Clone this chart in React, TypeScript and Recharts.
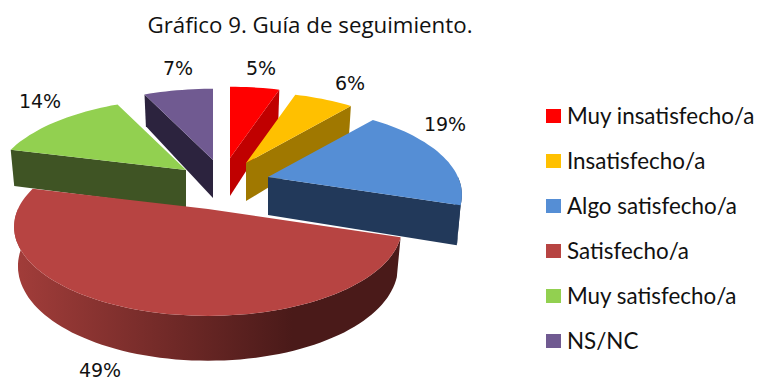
import { Legend, Pie, PieChart } from "recharts";

const CATEGORIES = [
  "Muy insatisfecho/a",
  "Insatisfecho/a",
  "Algo satisfecho/a",
  "Satisfecho/a",
  "Muy satisfecho/a",
  "NS/NC",
];
const VALUES = [5, 6, 19, 49, 14, 7];

const TOP_COLORS = ["#ff0000", "#ffc000", "#558ed5", "#b74442", "#92d050", "#705a91"];
const WALL_COLORS = ["#c00000", "#a07800", "#22395a", "#4a1a19", "#3f5424", "#2c233e"];

// how far each slice is pulled out of the pie centre
const EXPLODE = [
  [15, -32],
  [31, -27],
  [53, -13],
  [-7, 19],
  [-29, -20],
  [-2, -30],
];
const LABEL_POS = [
  [261, 75],
  [350, 90],
  [445, 131],
  [100, 377],
  [40, 108],
  [178, 75],
];

const PIE_CX = 215;
const PIE_CY = 190;
const RADIUS = 190;
const TILT = 0.45;
const PERSPECTIVE = 0.2;
const DEPTH = 38;

const data = CATEGORIES.map((name, i) => ({ name, value: VALUES[i] }));

type P = [number, number];

function project(ax: number, ay: number, deg: number): P {
  const a = (deg * Math.PI) / 180;
  const u = Math.sin(a);
  const v = Math.cos(a);
  const w = 1 / (1 + PERSPECTIVE * v);
  return [ax + RADIUS * u * w, ay - RADIUS * TILT * v * w];
}

// the same point dropped to the bottom of the slab
function drop(ax: number, ay: number, deg: number): P {
  const v = Math.cos((deg * Math.PI) / 180);
  const [x, y] = project(ax, ay, deg);
  return [ax + (x - ax) * 0.98, y + DEPTH * (1 - 0.18 * v)];
}

function toPath(pts: P[]) {
  return "M" + pts.map((p) => `${p[0].toFixed(1)},${p[1].toFixed(1)}`).join("L") + "Z";
}

function arc(from: number, to: number) {
  const out: number[] = [];
  for (let d = from; d < to; d += 2) out.push(d);
  out.push(to);
  return out;
}

function Slice3D(props: any) {
  const i = CATEGORIES.indexOf(props.payload?.name ?? props.name);
  if (i < 0) return null;
  const from = 90 - props.startAngle;
  const to = 90 - props.endAngle;
  const ax = props.cx + EXPLODE[i][0];
  const ay = props.cy + EXPLODE[i][1];
  const apexBottom: P = [ax, ay + DEPTH];
  const wall = WALL_COLORS[i];
  const gradId = `wall-${i}`;

  const cut = (deg: number) =>
    toPath([[ax, ay], project(ax, ay, deg), drop(ax, ay, deg), apexBottom]);

  const outerFrom = Math.max(from, 90);
  const outerTo = Math.min(to, 270);
  const outer =
    outerFrom < outerTo
      ? toPath([
          ...arc(outerFrom, outerTo).map((d) => project(ax, ay, d)),
          ...arc(outerFrom, outerTo).reverse().map((d) => drop(ax, ay, d)),
        ])
      : null;

  return (
    <g>
      <defs>
        <linearGradient id={gradId} gradientUnits="userSpaceOnUse" x1={15} x2={400} y1={0} y2={0}>
          <stop offset="0" stopColor={i === 3 ? "#a23d3a" : wall} />
          <stop offset="0.72" stopColor={wall} />
          <stop offset="1" stopColor={wall} />
        </linearGradient>
      </defs>
      {from >= 180 && <path d={cut(from)} fill={wall} />}
      {to <= 180 && <path d={cut(to)} fill={wall} />}
      {outer && <path d={outer} fill={`url(#${gradId})`} />}
      <path
        d={toPath([[ax, ay], ...arc(from, to).map((d) => project(ax, ay, d))])}
        fill={TOP_COLORS[i]}
      />
    </g>
  );
}

// the big slice sits in front of everything else, so it goes in its own pass
function BackSlice(props: any) {
  return props.payload?.name === CATEGORIES[3] || props.name === CATEGORIES[3] ? null : <Slice3D {...props} />;
}
function FrontSlice(props: any) {
  return props.payload?.name === CATEGORIES[3] || props.name === CATEGORIES[3] ? <Slice3D {...props} /> : null;
}

function renderLabel(props: any) {
  const i = CATEGORIES.indexOf(props.name);
  return (
    <text
      x={LABEL_POS[i][0]}
      y={LABEL_POS[i][1]}
      textAnchor="middle"
      fontFamily="'DejaVu Sans'"
      fontSize={19}
      fill="#111"
    >
      {VALUES[i]}%
    </text>
  );
}

function LegendBox() {
  return (
    <div style={{ position: "relative", width: 758, height: 380 }}>
      {CATEGORIES.map((name, i) => (
        <div key={name}>
          <div
            style={{
              position: "absolute",
              left: 546,
              top: 109 + i * 45,
              width: 15,
              height: 14,
              background: TOP_COLORS[i],
            }}
          />
          <div
            style={{
              position: "absolute",
              left: 567,
              top: 100 + i * 45,
              fontFamily: "Lato",
              fontSize: 22.4,
              lineHeight: "32px",
              color: "#111",
              whiteSpace: "nowrap",
            }}
          >
            {name}
          </div>
        </div>
      ))}
    </div>
  );
}

export default function App() {
  return (
    <div style={{ position: "absolute", left: 0, top: 0, width: 758, height: 380, background: "#fff" }}>
      <PieChart width={758} height={380} margin={{ top: 0, right: 0, bottom: 0, left: 0 }}>
        <text x={310} y={33} textAnchor="middle" fontFamily="'Open Sans'" fontSize={22.3} fill="#111">
          Gráfico 9. Guía de seguimiento.
        </text>
        <Legend
          content={() => <LegendBox />}
          wrapperStyle={{ left: 0, top: 0, width: 758, height: 380, pointerEvents: "none" }}
        />
        <Pie
          data={data}
          dataKey="value"
          nameKey="name"
          cx={PIE_CX}
          cy={PIE_CY}
          outerRadius={RADIUS}
          startAngle={90}
          endAngle={-270}
          stroke="none"
          label={renderLabel}
          labelLine={false}
          shape={BackSlice}
          isAnimationActive={false}
        />
        <Pie
          data={data}
          dataKey="value"
          nameKey="name"
          cx={PIE_CX}
          cy={PIE_CY}
          outerRadius={RADIUS}
          startAngle={90}
          endAngle={-270}
          stroke="none"
          legendType="none"
          shape={FrontSlice}
          isAnimationActive={false}
        />
      </PieChart>
    </div>
  );
}
